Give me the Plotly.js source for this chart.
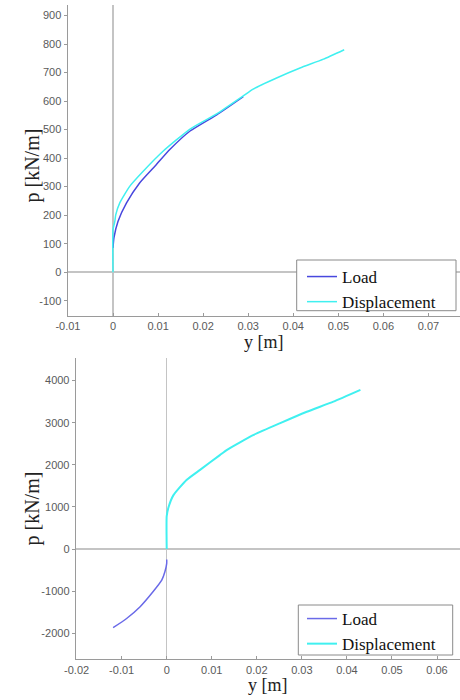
<!DOCTYPE html>
<html>
<head>
<meta charset="utf-8">
<script src="https://cdn.plot.ly/plotly-3.0.1.min.js"></script>
<style>html,body{margin:0;padding:0;background:#fff}#chart{width:460px;height:700px}</style>
</head>
<body>
<div id="chart"></div>
<script>
// Top panel
const topLoadX = [0, 0.0002, 0.0011, 0.003, 0.0059, 0.0096, 0.0126, 0.0171, 0.023, 0.0289];
const topLoadP = [85, 120, 178, 243, 313, 377, 430, 495, 552, 616];
const topDispX = [0, 0, 0.0004, 0.0006, 0.0015, 0.0037, 0.0067, 0.0111, 0.0171, 0.023, 0.0289, 0.0311, 0.0363, 0.0415, 0.0467, 0.0513];
const topDispP = [0, 150, 178, 201, 243, 301, 354, 424, 502, 555, 618, 642, 681, 716, 747, 780];
// Bottom panel
const botLoadX = [0, 0, -0.0004, -0.0011, -0.003, -0.0059, -0.0089, -0.0119];
const botLoadP = [-250, -340, -540, -740, -1010, -1370, -1650, -1870];
const botDispX = [0, 0, 0.0004, 0.0015, 0.0044, 0.0074, 0.0118, 0.0133, 0.0193, 0.0252, 0.0311, 0.037, 0.043];
const botDispP = [0, 780, 990, 1280, 1640, 1880, 2230, 2350, 2710, 2990, 3260, 3500, 3780];

const seriesNames = ['Load', 'Displacement'];
const xTitle = 'y [m]';
const yTitle = 'p [kN/m]';
const topYTicks = [-100, 0, 100, 200, 300, 400, 500, 600, 700, 800, 900];
const topXTicks = [-0.01, 0, 0.01, 0.02, 0.03, 0.04, 0.05, 0.06, 0.07];
const botYTicks = [-2000, -1000, 0, 1000, 2000, 3000, 4000];
const botXTicks = [-0.02, -0.01, 0, 0.01, 0.02, 0.03, 0.04, 0.05, 0.06];

const W = 460, H = 700;
const serif = 'Liberation Serif, Times New Roman, serif';
const sans = 'Liberation Sans, Arial, sans-serif';
const smooth = {shape: 'spline', smoothing: 0.5};

const traces = [
  {x: topLoadX, y: topLoadP, name: seriesNames[0], mode: 'lines', line: Object.assign({color: '#4848de', width: 1.5}, smooth), xaxis: 'x', yaxis: 'y', legend: 'legend'},
  {x: topDispX, y: topDispP, name: seriesNames[1], mode: 'lines', line: Object.assign({color: '#40f0f0', width: 1.5}, smooth), xaxis: 'x', yaxis: 'y', legend: 'legend'},
  {x: botLoadX, y: botLoadP, name: seriesNames[0], mode: 'lines', line: Object.assign({color: '#6a6ae8', width: 1.5}, smooth), xaxis: 'x2', yaxis: 'y2', legend: 'legend2'},
  {x: botDispX, y: botDispP, name: seriesNames[1], mode: 'lines', line: Object.assign({color: '#40f0f0', width: 2}, smooth), xaxis: 'x2', yaxis: 'y2', legend: 'legend2'}
];

function xax(domain, range, ticks, anchor) {
  return {
    domain: domain, range: range, anchor: anchor,
    tickvals: ticks, ticktext: ticks.map(String),
    showgrid: false, zeroline: true, zerolinecolor: '#c4c4c4', zerolinewidth: 1.5,
    showline: true, linecolor: '#9a9a9a', linewidth: 1,
    ticks: 'inside', ticklen: 3, tickcolor: '#9a9a9a',
    tickfont: {family: sans, size: 11, color: '#5a5a5a'},
    title: {text: xTitle, font: {family: serif, size: 18, color: '#222'}, standoff: 2}
  };
}
function yax(domain, range, ticks, anchor) {
  return {
    domain: domain, range: range, anchor: anchor,
    tickvals: ticks, ticktext: ticks.map(String),
    showgrid: false, zeroline: true, zerolinecolor: '#c4c4c4', zerolinewidth: 1.5,
    showline: true, linecolor: '#9a9a9a', linewidth: 1,
    ticks: 'outside', ticklen: 3, tickcolor: '#9a9a9a',
    tickfont: {family: sans, size: 11, color: '#5a5a5a'}
  };
}
function legendAt(xl, yt) {
  return {
    x: xl / W, y: 1 - yt / H, xanchor: 'left', yanchor: 'top',
    bgcolor: 'rgba(0,0,0,0)', borderwidth: 0,
    font: {family: serif, size: 17, color: '#111'},
    tracegroupgap: 0, itemwidth: 30
  };
}
function boxAt(x0, y0, x1, y1) {
  return {type: 'rect', xref: 'paper', yref: 'paper', layer: 'above',
    x0: x0 / W, x1: x1 / W, y0: 1 - y1 / H, y1: 1 - y0 / H,
    fillcolor: '#ffffff', line: {color: '#8a8a8a', width: 1}};
}

const layout = {
  width: W, height: H,
  margin: {l: 0, r: 0, t: 0, b: 0},
  paper_bgcolor: '#fff', plot_bgcolor: '#fff',
  showlegend: true,
  xaxis: xax([67.5 / W, 1], [-0.0101, 0.077], topXTicks, 'y'),
  yaxis: yax([1 - 315.5 / H, 1 - 5 / H], [-152, 937], topYTicks, 'x'),
  xaxis2: xax([75.7 / W, 1], [-0.0202, 0.0651], botXTicks, 'y2'),
  yaxis2: yax([1 - 659.3 / H, 1 - 358.3 / H], [-2620, 4530], botYTicks, 'x2'),
  legend: legendAt(302, 259),
  legend2: legendAt(302, 601),
  shapes: [boxAt(296.7, 260, 456, 310.7), boxAt(298.3, 605, 452.7, 655)],
  annotations: [
    {text: yTitle, xref: 'paper', yref: 'paper', x: 32.5 / W, y: 1 - 166 / H, xanchor: 'center', yanchor: 'middle',
     textangle: -90, showarrow: false, font: {family: serif, size: 20, color: '#222'}},
    {text: yTitle, xref: 'paper', yref: 'paper', x: 32.5 / W, y: 1 - 509 / H, xanchor: 'center', yanchor: 'middle',
     textangle: -90, showarrow: false, font: {family: serif, size: 20, color: '#222'}}
  ]
};

Plotly.newPlot('chart', traces, layout, {displayModeBar: false, staticPlot: true});
</script>
</body>
</html>
